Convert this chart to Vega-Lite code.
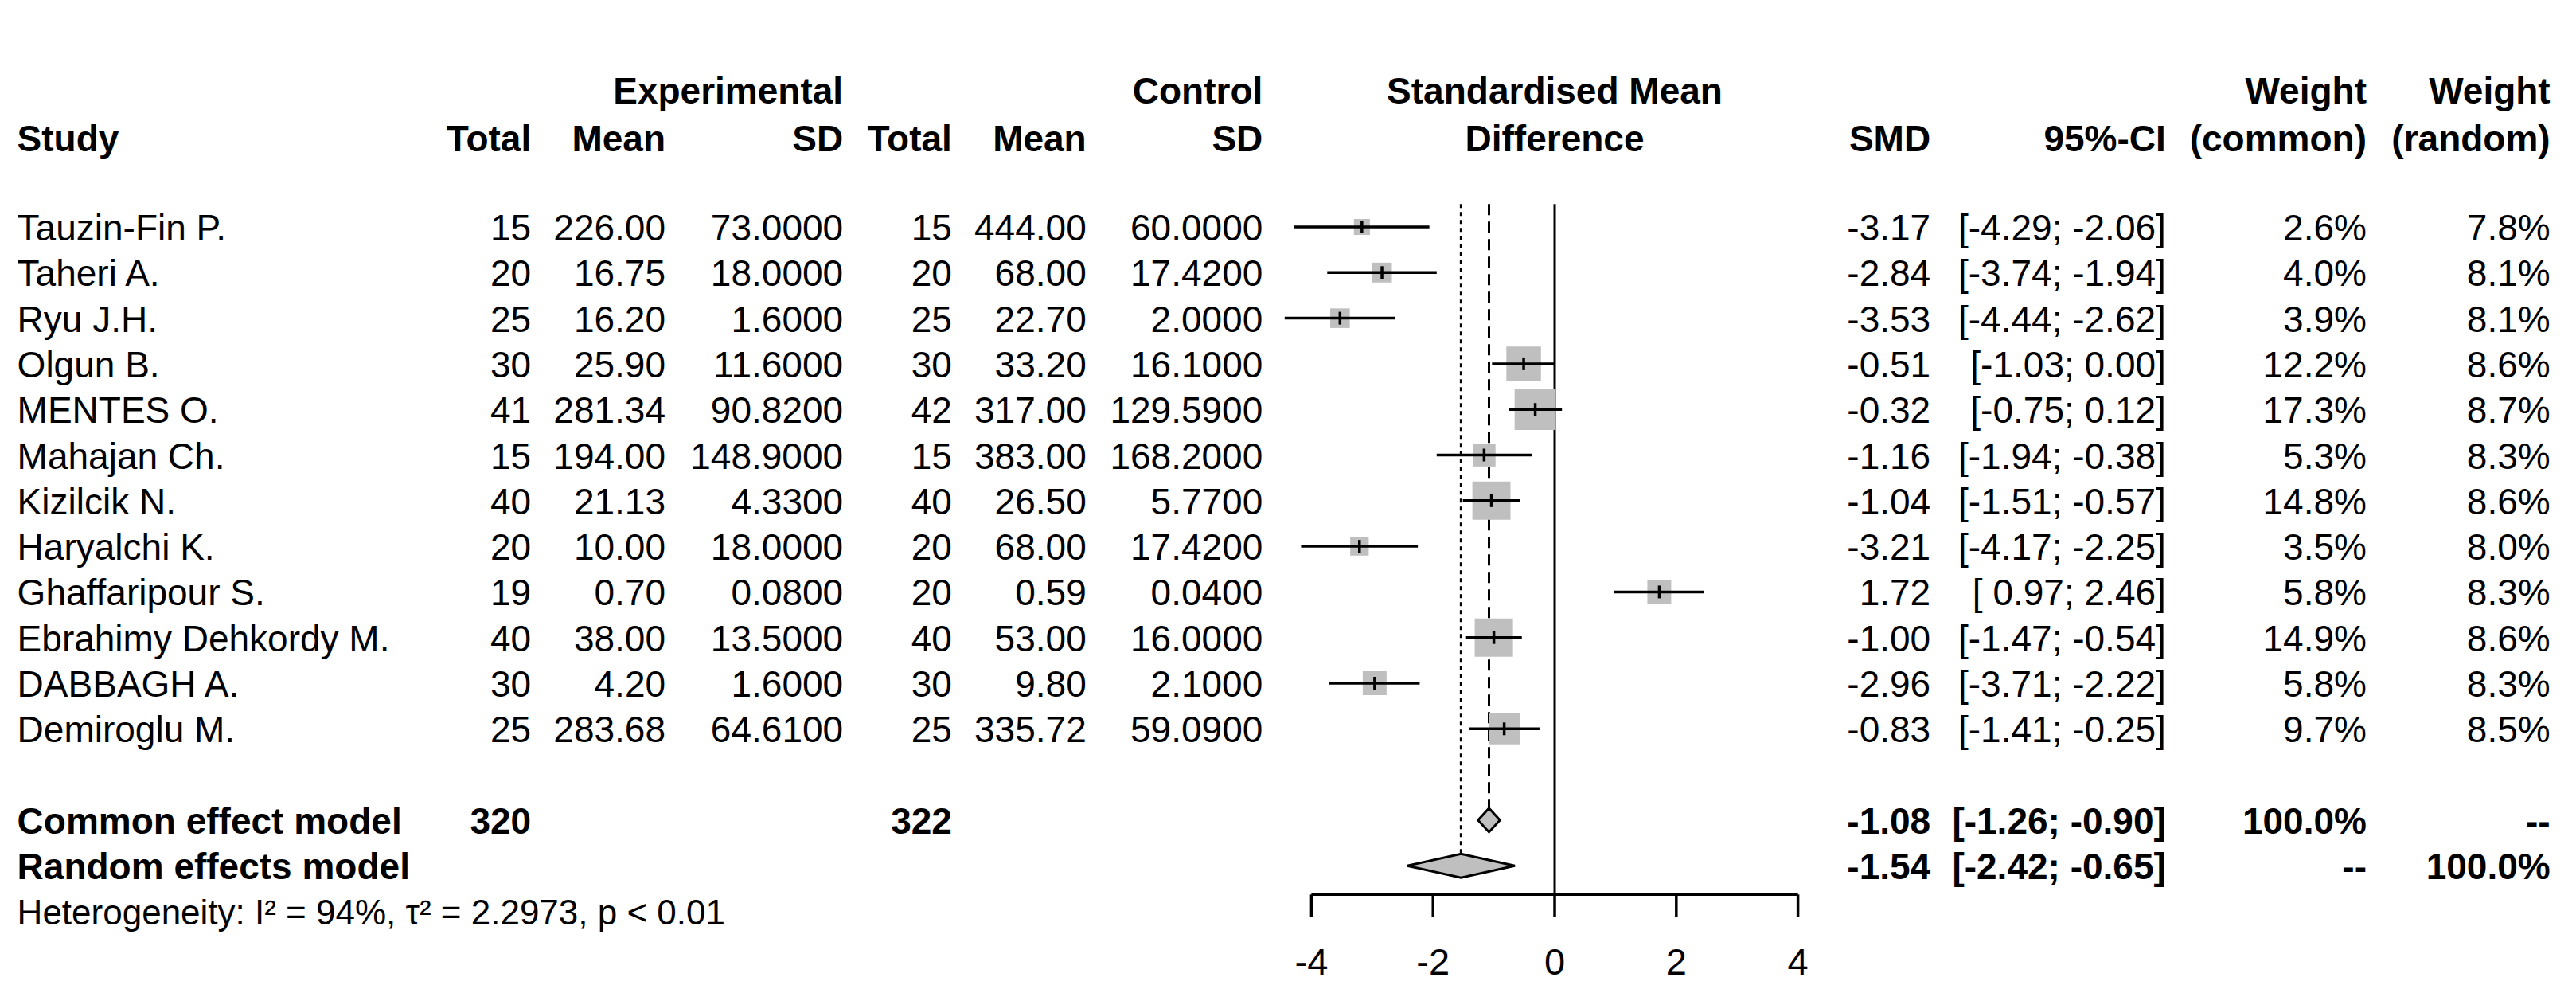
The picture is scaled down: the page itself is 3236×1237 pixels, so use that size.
{
  "$schema": "https://vega.github.io/schema/vega-lite/v6.json",
  "width": 3236,
  "height": 1237,
  "padding": 0,
  "autosize": {"type": "fit", "contains": "padding"},
  "background": "white",
  "data": {"values": [{}]},
  "config": {
    "view": {"stroke": null},
    "locale": {"number": {"decimal": ".", "thousands": ",", "grouping": [3], "currency": ["$", ""], "minus": "-"}},
    "text": {"font": "Liberation Sans", "fontSize": 46, "color": "black", "baseline": "middle", "dy": 3},
    "axis": {"disable": true}
  },
  "datasets": {
    "studies": [
      {"study": "Tauzin-Fin P.", "order": 0, "eTotal": 15, "eMean": 226.00, "eSD": 73.0, "cTotal": 15, "cMean": 444.00, "cSD": 60.0, "smd": -3.17, "lo": -4.29, "hi": -2.06, "ci": "[-4.29; -2.06]", "wc": 0.026, "wr": 0.078},
      {"study": "Taheri A.", "order": 1, "eTotal": 20, "eMean": 16.75, "eSD": 18.0, "cTotal": 20, "cMean": 68.00, "cSD": 17.42, "smd": -2.84, "lo": -3.74, "hi": -1.94, "ci": "[-3.74; -1.94]", "wc": 0.040, "wr": 0.081},
      {"study": "Ryu J.H.", "order": 2, "eTotal": 25, "eMean": 16.20, "eSD": 1.6, "cTotal": 25, "cMean": 22.70, "cSD": 2.0, "smd": -3.53, "lo": -4.44, "hi": -2.62, "ci": "[-4.44; -2.62]", "wc": 0.039, "wr": 0.081},
      {"study": "Olgun B.", "order": 3, "eTotal": 30, "eMean": 25.90, "eSD": 11.6, "cTotal": 30, "cMean": 33.20, "cSD": 16.1, "smd": -0.51, "lo": -1.03, "hi": 0.00, "ci": "[-1.03; 0.00]", "wc": 0.122, "wr": 0.086},
      {"study": "MENTES O.", "order": 4, "eTotal": 41, "eMean": 281.34, "eSD": 90.82, "cTotal": 42, "cMean": 317.00, "cSD": 129.59, "smd": -0.32, "lo": -0.75, "hi": 0.12, "ci": "[-0.75; 0.12]", "wc": 0.173, "wr": 0.087},
      {"study": "Mahajan Ch.", "order": 5, "eTotal": 15, "eMean": 194.00, "eSD": 148.9, "cTotal": 15, "cMean": 383.00, "cSD": 168.2, "smd": -1.16, "lo": -1.94, "hi": -0.38, "ci": "[-1.94; -0.38]", "wc": 0.053, "wr": 0.083},
      {"study": "Kizilcik N.", "order": 6, "eTotal": 40, "eMean": 21.13, "eSD": 4.33, "cTotal": 40, "cMean": 26.50, "cSD": 5.77, "smd": -1.04, "lo": -1.51, "hi": -0.57, "ci": "[-1.51; -0.57]", "wc": 0.148, "wr": 0.086},
      {"study": "Haryalchi K.", "order": 7, "eTotal": 20, "eMean": 10.00, "eSD": 18.0, "cTotal": 20, "cMean": 68.00, "cSD": 17.42, "smd": -3.21, "lo": -4.17, "hi": -2.25, "ci": "[-4.17; -2.25]", "wc": 0.035, "wr": 0.080},
      {"study": "Ghaffaripour S.", "order": 8, "eTotal": 19, "eMean": 0.70, "eSD": 0.08, "cTotal": 20, "cMean": 0.59, "cSD": 0.04, "smd": 1.72, "lo": 0.97, "hi": 2.46, "ci": "[ 0.97;  2.46]", "wc": 0.058, "wr": 0.083},
      {"study": "Ebrahimy Dehkordy M.", "order": 9, "eTotal": 40, "eMean": 38.00, "eSD": 13.5, "cTotal": 40, "cMean": 53.00, "cSD": 16.0, "smd": -1.00, "lo": -1.47, "hi": -0.54, "ci": "[-1.47; -0.54]", "wc": 0.149, "wr": 0.086},
      {"study": "DABBAGH A.", "order": 10, "eTotal": 30, "eMean": 4.20, "eSD": 1.6, "cTotal": 30, "cMean": 9.80, "cSD": 2.1, "smd": -2.96, "lo": -3.71, "hi": -2.22, "ci": "[-3.71; -2.22]", "wc": 0.058, "wr": 0.083},
      {"study": "Demiroglu M.", "order": 11, "eTotal": 25, "eMean": 283.68, "eSD": 64.61, "cTotal": 25, "cMean": 335.72, "cSD": 59.09, "smd": -0.83, "lo": -1.41, "hi": -0.25, "ci": "[-1.41; -0.25]", "wc": 0.097, "wr": 0.085}
    ],
    "pooled": [
      {"model": "Common effect model", "order": 13, "eTotal": 320, "cTotal": 322, "est": -1.08, "lo": -1.26, "hi": -0.90, "ci": "[-1.26; -0.90]", "wc": "100.0%", "wr": "--"},
      {"model": "Random effects model", "order": 14, "est": -1.54, "lo": -2.42, "hi": -0.65, "ci": "[-2.42; -0.65]", "wc": "--", "wr": "100.0%"}
    ],
    "ticks": [{"v": -4}, {"v": -2}, {"v": 0}, {"v": 2}, {"v": 4}]
  },
  "layer": [
    {
      "mark": {"type": "rule", "strokeWidth": 3, "color": "black"},
      "encoding": {
        "x": {"datum": 0, "type": "quantitative", "scale": {"domain": [-25.563, 16.793], "nice": false, "zero": false}},
        "y": {"datum": -0.5, "type": "quantitative", "scale": {"domain": [-4.974, 16.614], "reverse": true, "nice": false, "zero": false}},
        "y2": {"datum": 14.63}
      }
    },
    {
      "mark": {"type": "rule", "strokeWidth": 3.5, "color": "black"},
      "encoding": {"x": {"datum": -4, "type": "quantitative"}, "x2": {"datum": 4}, "y": {"datum": 14.63, "type": "quantitative"}}
    },
    {
      "data": {"name": "ticks"},
      "mark": {"type": "rule", "strokeWidth": 3.5, "color": "black"},
      "encoding": {"x": {"field": "v", "type": "quantitative"}, "y": {"datum": 14.63, "type": "quantitative"}, "y2": {"datum": 15.12}}
    },
    {
      "data": {"name": "ticks"},
      "mark": {"type": "text", "align": "center", "fontSize": 47},
      "encoding": {"x": {"field": "v", "type": "quantitative"}, "y": {"datum": 16.09, "type": "quantitative"}, "text": {"field": "v", "type": "quantitative", "format": "d"}}
    },
    {
      "data": {"name": "pooled"},
      "transform": [{"filter": "datum.model === 'Common effect model'"}],
      "mark": {"type": "rule", "strokeWidth": 3, "color": "black", "strokeDash": [14, 8]},
      "encoding": {"x": {"field": "est", "type": "quantitative"}, "y": {"datum": -0.5, "type": "quantitative"}, "y2": {"datum": 12.74}}
    },
    {
      "data": {"name": "pooled"},
      "transform": [{"filter": "datum.model === 'Random effects model'"}],
      "mark": {"type": "rule", "strokeWidth": 3, "color": "black", "strokeDash": [5, 5]},
      "encoding": {"x": {"field": "est", "type": "quantitative"}, "y": {"datum": -0.5, "type": "quantitative"}, "y2": {"datum": 13.73}}
    },
    {
      "data": {"name": "studies"},
      "mark": {"type": "point", "shape": "square", "filled": true, "color": "#BFBFBF", "opacity": 1, "strokeWidth": 0},
      "encoding": {
        "x": {"field": "smd", "type": "quantitative"},
        "y": {"field": "order", "type": "quantitative"},
        "size": {"field": "wc", "type": "quantitative", "scale": {"type": "linear", "domain": [0, 0.2], "range": [0, 3100], "zero": true}, "legend": null}
      }
    },
    {
      "data": {"name": "studies"},
      "mark": {"type": "rule", "strokeWidth": 3.5, "color": "black"},
      "encoding": {"x": {"field": "lo", "type": "quantitative"}, "x2": {"field": "hi"}, "y": {"field": "order", "type": "quantitative"}}
    },
    {
      "data": {"name": "studies"},
      "mark": {"type": "tick", "orient": "vertical", "size": 16, "thickness": 3.5, "color": "black", "opacity": 1},
      "encoding": {"x": {"field": "smd", "type": "quantitative"}, "y": {"field": "order", "type": "quantitative"}}
    },
    {
      "data": {"name": "pooled"},
      "transform": [{"filter": "datum.model === 'Common effect model'"}],
      "mark": {"type": "point", "shape": "M-1,0L0,-1.09L1,0L0,1.09Z", "size": 756, "filled": true, "fill": "#BFBFBF", "stroke": "black", "strokeWidth": 3, "opacity": 1},
      "encoding": {"x": {"field": "est", "type": "quantitative"}, "y": {"field": "order", "type": "quantitative"}}
    },
    {
      "data": {"name": "pooled"},
      "transform": [{"filter": "datum.model === 'Random effects model'"}],
      "mark": {"type": "point", "shape": "M-1,0L0,-0.222L1,0L0,0.222Z", "size": 18279, "filled": true, "fill": "#BFBFBF", "stroke": "black", "strokeWidth": 3, "opacity": 1},
      "encoding": {"x": {"field": "est", "type": "quantitative"}, "y": {"field": "order", "type": "quantitative"}}
    },
    {
      "data": {"name": "studies"},
      "mark": {"type": "text", "align": "left"},
      "encoding": {"x": {"datum": -25.28, "type": "quantitative"}, "y": {"field": "order", "type": "quantitative"}, "text": {"field": "study"}}
    },
    {
      "data": {"name": "studies"},
      "mark": {"type": "text", "align": "right"},
      "encoding": {"x": {"datum": -16.83, "type": "quantitative"}, "y": {"field": "order", "type": "quantitative"}, "text": {"field": "eTotal", "type": "quantitative", "format": "d"}}
    },
    {
      "data": {"name": "studies"},
      "mark": {"type": "text", "align": "right"},
      "encoding": {"x": {"datum": -14.62, "type": "quantitative"}, "y": {"field": "order", "type": "quantitative"}, "text": {"field": "eMean", "type": "quantitative", "format": ".2f"}}
    },
    {
      "data": {"name": "studies"},
      "mark": {"type": "text", "align": "right"},
      "encoding": {"x": {"datum": -11.70, "type": "quantitative"}, "y": {"field": "order", "type": "quantitative"}, "text": {"field": "eSD", "type": "quantitative", "format": ".4f"}}
    },
    {
      "data": {"name": "studies"},
      "mark": {"type": "text", "align": "right"},
      "encoding": {"x": {"datum": -9.91, "type": "quantitative"}, "y": {"field": "order", "type": "quantitative"}, "text": {"field": "cTotal", "type": "quantitative", "format": "d"}}
    },
    {
      "data": {"name": "studies"},
      "mark": {"type": "text", "align": "right"},
      "encoding": {"x": {"datum": -7.70, "type": "quantitative"}, "y": {"field": "order", "type": "quantitative"}, "text": {"field": "cMean", "type": "quantitative", "format": ".2f"}}
    },
    {
      "data": {"name": "studies"},
      "mark": {"type": "text", "align": "right"},
      "encoding": {"x": {"datum": -4.80, "type": "quantitative"}, "y": {"field": "order", "type": "quantitative"}, "text": {"field": "cSD", "type": "quantitative", "format": ".4f"}}
    },
    {
      "data": {"name": "studies"},
      "mark": {"type": "text", "align": "right"},
      "encoding": {"x": {"datum": 6.18, "type": "quantitative"}, "y": {"field": "order", "type": "quantitative"}, "text": {"field": "smd", "type": "quantitative", "format": ".2f"}}
    },
    {
      "data": {"name": "studies"},
      "mark": {"type": "text", "align": "right"},
      "encoding": {"x": {"datum": 10.05, "type": "quantitative"}, "y": {"field": "order", "type": "quantitative"}, "text": {"field": "ci"}}
    },
    {
      "data": {"name": "studies"},
      "mark": {"type": "text", "align": "right"},
      "encoding": {"x": {"datum": 13.35, "type": "quantitative"}, "y": {"field": "order", "type": "quantitative"}, "text": {"field": "wc", "type": "quantitative", "format": ".1%"}}
    },
    {
      "data": {"name": "studies"},
      "mark": {"type": "text", "align": "right"},
      "encoding": {"x": {"datum": 16.37, "type": "quantitative"}, "y": {"field": "order", "type": "quantitative"}, "text": {"field": "wr", "type": "quantitative", "format": ".1%"}}
    },
    {
      "data": {"name": "pooled"},
      "mark": {"type": "text", "align": "left", "fontWeight": "bold"},
      "encoding": {"x": {"datum": -25.28, "type": "quantitative"}, "y": {"field": "order", "type": "quantitative"}, "text": {"field": "model"}}
    },
    {
      "data": {"name": "pooled"},
      "transform": [{"filter": {"field": "eTotal", "valid": true}}],
      "mark": {"type": "text", "align": "right", "fontWeight": "bold"},
      "encoding": {"x": {"datum": -16.83, "type": "quantitative"}, "y": {"field": "order", "type": "quantitative"}, "text": {"field": "eTotal", "type": "quantitative", "format": "d"}}
    },
    {
      "data": {"name": "pooled"},
      "transform": [{"filter": {"field": "cTotal", "valid": true}}],
      "mark": {"type": "text", "align": "right", "fontWeight": "bold"},
      "encoding": {"x": {"datum": -9.91, "type": "quantitative"}, "y": {"field": "order", "type": "quantitative"}, "text": {"field": "cTotal", "type": "quantitative", "format": "d"}}
    },
    {
      "data": {"name": "pooled"},
      "mark": {"type": "text", "align": "right", "fontWeight": "bold"},
      "encoding": {"x": {"datum": 6.18, "type": "quantitative"}, "y": {"field": "order", "type": "quantitative"}, "text": {"field": "est", "type": "quantitative", "format": ".2f"}}
    },
    {
      "data": {"name": "pooled"},
      "mark": {"type": "text", "align": "right", "fontWeight": "bold"},
      "encoding": {"x": {"datum": 10.05, "type": "quantitative"}, "y": {"field": "order", "type": "quantitative"}, "text": {"field": "ci"}}
    },
    {
      "data": {"name": "pooled"},
      "mark": {"type": "text", "align": "right", "fontWeight": "bold"},
      "encoding": {"x": {"datum": 13.35, "type": "quantitative"}, "y": {"field": "order", "type": "quantitative"}, "text": {"field": "wc"}}
    },
    {
      "data": {"name": "pooled"},
      "mark": {"type": "text", "align": "right", "fontWeight": "bold"},
      "encoding": {"x": {"datum": 16.37, "type": "quantitative"}, "y": {"field": "order", "type": "quantitative"}, "text": {"field": "wr"}}
    },
    {
      "mark": {"type": "text", "align": "left", "fontSize": 44, "text": "Heterogeneity: I² = 94%, τ² = 2.2973, p < 0.01"},
      "encoding": {"x": {"datum": -25.28, "type": "quantitative"}, "y": {"datum": 15, "type": "quantitative"}}
    },
    {"mark": {"type": "text", "align": "right", "fontWeight": "bold", "text": "Experimental"}, "encoding": {"x": {"datum": -11.70, "type": "quantitative"}, "y": {"datum": -3.0, "type": "quantitative"}}},
    {"mark": {"type": "text", "align": "right", "fontWeight": "bold", "text": "Control"}, "encoding": {"x": {"datum": -4.80, "type": "quantitative"}, "y": {"datum": -3.0, "type": "quantitative"}}},
    {"mark": {"type": "text", "align": "center", "fontWeight": "bold", "text": "Standardised Mean"}, "encoding": {"x": {"datum": 0, "type": "quantitative"}, "y": {"datum": -3.0, "type": "quantitative"}}},
    {"mark": {"type": "text", "align": "right", "fontWeight": "bold", "text": "Weight"}, "encoding": {"x": {"datum": 13.35, "type": "quantitative"}, "y": {"datum": -3.0, "type": "quantitative"}}},
    {"mark": {"type": "text", "align": "right", "fontWeight": "bold", "text": "Weight"}, "encoding": {"x": {"datum": 16.37, "type": "quantitative"}, "y": {"datum": -3.0, "type": "quantitative"}}},
    {"mark": {"type": "text", "align": "left", "fontWeight": "bold", "text": "Study"}, "encoding": {"x": {"datum": -25.28, "type": "quantitative"}, "y": {"datum": -1.95, "type": "quantitative"}}},
    {"mark": {"type": "text", "align": "right", "fontWeight": "bold", "text": "Total"}, "encoding": {"x": {"datum": -16.83, "type": "quantitative"}, "y": {"datum": -1.95, "type": "quantitative"}}},
    {"mark": {"type": "text", "align": "right", "fontWeight": "bold", "text": "Mean"}, "encoding": {"x": {"datum": -14.62, "type": "quantitative"}, "y": {"datum": -1.95, "type": "quantitative"}}},
    {"mark": {"type": "text", "align": "right", "fontWeight": "bold", "text": "SD"}, "encoding": {"x": {"datum": -11.70, "type": "quantitative"}, "y": {"datum": -1.95, "type": "quantitative"}}},
    {"mark": {"type": "text", "align": "right", "fontWeight": "bold", "text": "Total"}, "encoding": {"x": {"datum": -9.91, "type": "quantitative"}, "y": {"datum": -1.95, "type": "quantitative"}}},
    {"mark": {"type": "text", "align": "right", "fontWeight": "bold", "text": "Mean"}, "encoding": {"x": {"datum": -7.70, "type": "quantitative"}, "y": {"datum": -1.95, "type": "quantitative"}}},
    {"mark": {"type": "text", "align": "right", "fontWeight": "bold", "text": "SD"}, "encoding": {"x": {"datum": -4.80, "type": "quantitative"}, "y": {"datum": -1.95, "type": "quantitative"}}},
    {"mark": {"type": "text", "align": "center", "fontWeight": "bold", "text": "Difference"}, "encoding": {"x": {"datum": 0, "type": "quantitative"}, "y": {"datum": -1.95, "type": "quantitative"}}},
    {"mark": {"type": "text", "align": "right", "fontWeight": "bold", "text": "SMD"}, "encoding": {"x": {"datum": 6.18, "type": "quantitative"}, "y": {"datum": -1.95, "type": "quantitative"}}},
    {"mark": {"type": "text", "align": "right", "fontWeight": "bold", "text": "95%-CI"}, "encoding": {"x": {"datum": 10.05, "type": "quantitative"}, "y": {"datum": -1.95, "type": "quantitative"}}},
    {"mark": {"type": "text", "align": "right", "fontWeight": "bold", "text": "(common)"}, "encoding": {"x": {"datum": 13.35, "type": "quantitative"}, "y": {"datum": -1.95, "type": "quantitative"}}},
    {"mark": {"type": "text", "align": "right", "fontWeight": "bold", "text": "(random)"}, "encoding": {"x": {"datum": 16.37, "type": "quantitative"}, "y": {"datum": -1.95, "type": "quantitative"}}}
  ]
}
